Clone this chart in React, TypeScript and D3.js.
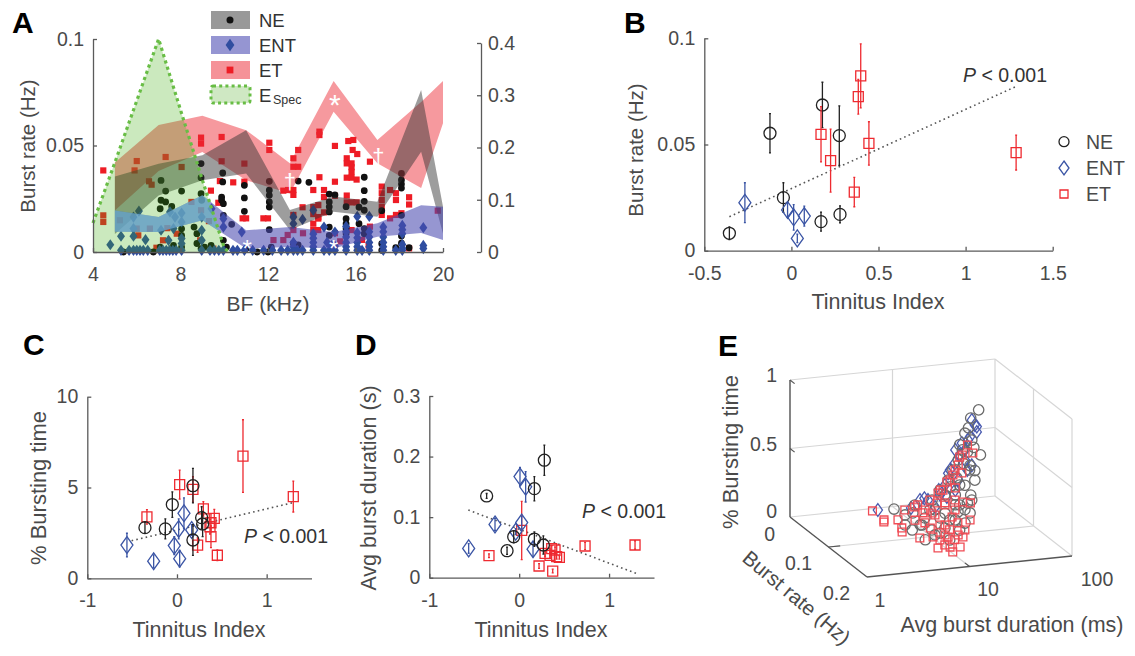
// App.tsx
import React, { useRef, useEffect } from 'react';
import * as d3 from 'd3';

// Panel A: bands are [BF, low, high], points are [BF, burst rate]
const etBand = [[5, 0.0195, 0.042], [7, 0.038, 0.0596], [9, 0.047, 0.064], [11, 0.0337, 0.0572], [13, 0.0275, 0.0417], [15, 0.0659, 0.0803], [17, 0.0417, 0.0526], [19, 0.03, 0.0704], [20, 0.0605, 0.0803]];
const neBand = [[5, 0.0085, 0.0355], [7, 0.0265, 0.0414], [9, 0.0337, 0.0454], [11, 0.0368, 0.0572], [13, 0.0103, 0.0197], [15, 0.0189, 0.026], [17, 0.0166, 0.0236], [19, 0.0471, 0.076], [20, 0.0086, 0.0213]];
const entBand = [[5, 0.0095, 0.0195], [7, 0.0094, 0.0164], [9, 0.0149, 0.0266], [11, 0.0016, 0.0102], [13, 0.0023, 0.0117], [15, 0.0016, 0.0094], [17, 0.0072, 0.0135], [19, 0.0089, 0.022], [20, 0.0056, 0.0213]];
const espec = [[4, 0.0136], [5, 0.042], [6, 0.071], [7, 0.1], [8, 0.0667], [9, 0.0338], [10, 0.002], [10.2, 0]];

const etPoints = [
  [4.47, 0.0383], [4.47, 0.0172], [4.47, 0.0141], [5.9, 0.0383], [6, 0.0427], [6.56, 0.0332], [6.68, 0.0316], [7.32, 0.0446], [8.05, 0.0399],
  [8.94, 0.0537], [8.94, 0.0509], [9.88, 0.054], [9.88, 0.0426], [10.92, 0.0415], [9.8, 0.0333], [10.41, 0.0327], [10.92, 0.033], [9.39, 0.0288], [9.73, 0.0231],
  [10.84, 0.0158], [11, 0.0158], [11.79, 0.0158], [12, 0.0158], [12.06, 0.0513], [12.06, 0.0479], [12.7, 0.0288], [12.92, 0.0291], [13.16, 0.0291], [13.16, 0.0268],
  [14.35, 0.0549], [14.35, 0.0565], [15.06, 0.0498], [15.67, 0.0521], [15.9, 0.0526], [15.87, 0.0479], [16.08, 0.046], [15.6, 0.044], [15.6, 0.0416], [15.82, 0.0416],
  [15.82, 0.0398], [15.82, 0.0376], [15.6, 0.0349], [15.82, 0.0349], [16.05, 0.034], [16.66, 0.0424], [13.38, 0.0479], [13.16, 0.044], [13.16, 0.04], [13.38, 0.04],
  [14.35, 0.0351], [15.06, 0.033], [14.07, 0.0291], [14.56, 0.0291], [15.06, 0.0264], [14.56, 0.0258], [13.58, 0.021], [14.07, 0.0211], [14.3, 0.022], [14.56, 0.0186],
  [14.07, 0.0178], [15.6, 0.0265], [15.6, 0.0233], [15.82, 0.0233], [16.05, 0.0233], [13.16, 0.0174], [14.07, 0.0133], [14.3, 0.0157], [14.07, 0.0103], [14.3, 0.0103],
  [15.06, 0.0088], [15.82, 0.0103], [13.6, 0.0088], [13.16, 0.0103], [12.7, 0.0056], [12.25, 0.0056], [12.9, 0.008], [14.3, 0.0164], [16.66, 0.0119],
  [17.2, 0.0307], [17.2, 0.0276], [17.2, 0.0244], [17.2, 0.0213], [17.2, 0.0174], [17.58, 0.0291], [17.85, 0.0276], [17.85, 0.0244], [18.45, 0.0257], [18.45, 0.0223],
  [17.58, 0.0158], [17.85, 0.0174], [18.1, 0.0182], [18.45, 0.0017], [19.76, 0.0194], [6.6, 0.011], [6.07, 0.0078], [7.2, 0.0055], [7.83, 0.0086], [8.9, 0.0055],
  [9.5, 0.0016], [5.23, 0.0149], [8.5, 0.0235], [8.94, 0.0196], [7.4, 0.0112], [6, 0.011], [9.3, 0.0145], [6.9, 0.002], [16.3, 0.0057], [16.6, 0.003], [15.3, 0.005]
];
const nePoints = [
  [6.76, 0], [5.39, 0], [7.11, 0.0336], [7.32, 0.0286], [7.11, 0.0243], [7.32, 0.0235], [7.6, 0.0214], [7.07, 0.0203], [8.05, 0.0286], [8.94, 0.0415], [8.94, 0.0349],
  [8.94, 0.0274], [8.97, 0.0243], [8.62, 0.0117], [8.05, 0.0109], [8.05, 0.0078], [8.75, 0.0086], [8.75, 0.004], [8.94, 0.0016], [9.1, 0.0023], [9.4, 0.0031], [7.07, 0.0023],
  [7.68, 0.0031], [8.05, 0.0023], [9.93, 0.0371], [9.93, 0.0329], [9.88, 0.0258], [9.88, 0.0243], [9.96, 0.0227], [10.92, 0.0313], [10.92, 0.0254], [10.92, 0.0191],
  [9.96, 0.0172], [10.34, 0.013], [12.06, 0.0332], [12.06, 0.029], [12.06, 0.0266], [12.06, 0.0235], [12.06, 0.0211], [12.06, 0.0105], [9.96, 0.0055], [10.1, 0.0023],
  [11, 0.0016], [11.5, 0], [12, 0], [12.15, 0.0023], [13.38, 0.0333], [13.87, 0.0327], [14.8, 0.0272], [15.06, 0.0268], [14.8, 0.0235], [14.8, 0.0212], [14.8, 0.0188],
  [15.57, 0.0213], [16.4, 0.0351], [16.4, 0.0288], [16.4, 0.0238], [16.4, 0.0196], [16.16, 0.021], [16.16, 0.0133], [14.8, 0.0117], [15.57, 0.0156], [15.57, 0.0133],
  [15.57, 0.011], [15.57, 0.0086], [13.16, 0.0041], [13.38, 0.0033], [18.1, 0.0369], [18.1, 0.0338], [18.1, 0.0319], [18.1, 0.03], [17.2, 0.0194], [18.1, 0.0172],
  [18.1, 0.0075], [18.1, 0.0041], [18.45, 0.002], [17.84, 0.002], [17.2, 0.0039], [17.2, 0.0008], [14.8, 0.0078], [16.4, 0.011], [16.4, 0.0086]
];
const entPoints = [
  [4.79, 0.0034], [5.28, 0.0074], [5.85, 0.0074], [5.85, 0.011], [5.85, 0.0164], [6.1, 0.0192], [6.4, 0.0058], [7.11, 0.0102], [7.45, 0.0055], [7.68, 0.011], [7.52, 0.0188],
  [7.75, 0.0164], [8.05, 0.0183], [8.05, 0.0141], [8.05, 0.0063], [8.05, 0.004], [8.97, 0.0164], [8.97, 0.0102], [8.97, 0.0055], [9.42, 0.0203], [9.96, 0.0156], [9.96, 0.0117], [10.8, 0.0094],
  [13.16, 0.0164], [13.16, 0.0133], [13.58, 0.0153], [14.07, 0.0196], [14.56, 0.0117], [15.06, 0.0094], [16.08, 0.0167], [16.63, 0.0167], [18.14, 0.0125], [18.14, 0.0086], [19.1, 0.0114],
  [19.1, 0.0031], [19.1, 0.0016], [5.28, 0.0008], [5.65, 0.0008], [5.85, 0.0008], [6, 0.0008], [6.15, 0.0008], [6.3, 0.0008], [6.5, 0.0008], [7.05, 0.0008], [7.2, 0.0008], [7.35, 0.0008],
  [7.5, 0.0008], [7.65, 0.0008], [7.8, 0.0008], [8.05, 0.0008], [8.97, 0.0008], [9.35, 0.0008], [9.55, 0.0008], [9.75, 0.0008], [9.96, 0.0008], [10.4, 0.0008], [10.6, 0.0008], [10.92, 0.0008],
  [11.3, 0.0008], [11.8, 0.0008], [12.2, 0.0008], [12.6, 0.0008], [12.9, 0.0008], [13.16, 0.0008], [13.35, 0.0008], [13.58, 0.0008], [14.07, 0.0008], [14.56, 0.0008], [14.8, 0.0008],
  [15.06, 0.0008], [15.57, 0.0008], [16.08, 0.0008], [16.3, 0.0008], [16.63, 0.0008], [17.27, 0.0008], [17.84, 0.0008], [18.14, 0.0008],
  [14.07, 0.0025], [14.07, 0.0045], [14.07, 0.0065], [14.07, 0.0085], [15.57, 0.0025], [15.57, 0.0045], [15.57, 0.007], [15.57, 0.0095], [15.57, 0.012], [16.08, 0.0025], [16.08, 0.0045],
  [16.08, 0.0067], [16.08, 0.009], [16.63, 0.0025], [16.63, 0.0045], [16.63, 0.007], [16.63, 0.0095], [17.27, 0.0025], [17.27, 0.0045], [17.27, 0.007], [17.27, 0.0095], [17.27, 0.0117],
  [18.14, 0.0018], [18.14, 0.0035], [18.14, 0.0105], [13.16, 0.0025], [13.16, 0.0045], [14.9, 0.003], [14.7, 0.0045], [15.06, 0.0028]
];

// Panels B, C, D: points are [tinnitus index, value, error]
const bNe = [[-0.356, 0.0082, 0.003], [-0.123, 0.0553, 0.0092], [-0.046, 0.025, 0.007], [0.178, 0.0686, 0.0107], [0.275, 0.0542, 0.014], [0.17, 0.0137, 0.0045], [0.279, 0.0171, 0.004]];
const bEnt = [[-0.267, 0.0226, 0.0094], [-0.022, 0.0192, 0.0035], [0.013, 0.0157, 0.006], [0.074, 0.0163, 0.0047], [0.034, 0.0058, 0.002]];
const bEt = [[0.398, 0.0823, 0.0151], [0.384, 0.0725, 0.0082], [0.17, 0.0548, 0.013], [0.445, 0.0505, 0.0102], [0.225, 0.0424, 0.0148], [0.361, 0.0276, 0.0069], [1.29, 0.0462, 0.0082]];
const bTrend = [[-0.356, 0.016], [1.297, 0.0776]];

const cNe = [[-0.357, 2.79, 0.3], [-0.13, 2.72, 0.55], [-0.052, 4.06, 0.7], [0.178, 5.1, 0.95], [0.178, 2.11, 0.85], [0.275, 3.34, 0.6], [0.286, 2.99, 0.7]];
const cEnt = [[-0.558, 1.83, 0.65], [-0.26, 0.94, 0.35], [0.078, 3.58, 0.85], [0.019, 2.72, 0.55], [0.164, 2.66, 0.3], [-0.03, 1.8, 0.5], [0.03, 1.08, 0.45]];
const cEt = [[-0.335, 3.38, 0.4], [0.03, 5.16, 0.8], [0.178, 4.9, 0.7], [0.23, 1.83, 0.4], [0.294, 3.82, 0.4], [0.379, 3.06, 0.5], [0.379, 2.29, 0.6], [0.416, 3.3, 0.5], [0.45, 1.27, 0.3], [0.736, 6.73, 2], [1.297, 4.5, 0.85], [0.368, 2.84, 0.4]];
const cTrend = [[-0.506, 2.07], [1.297, 4.17]];

const dNe = [[-0.362, 0.135, 0.004], [-0.135, 0.0446, 0.006], [-0.061, 0.0677, 0.01], [0.169, 0.147, 0.02], [0.169, 0.0638, 0.012], [0.28, 0.194, 0.025], [0.269, 0.054, 0.015]];
const dEnt = [[-0.562, 0.0484, 0.008], [-0.269, 0.088, 0.01], [0.009, 0.167, 0.015], [0.072, 0.15, 0.025], [0.028, 0.091, 0.01], [-0.039, 0.076, 0.005], [0.154, 0.047, 0.012]];
const dEt = [[-0.336, 0.0363, 0.003], [0.028, 0.078, 0.048], [0.221, 0.0193, 0.004], [0.288, 0.04, 0.005], [0.362, 0.048, 0.005], [0.373, 0.011, 0.003], [0.343, 0.037, 0.005], [0.399, 0.0457, 0.005], [0.417, 0.0347, 0.004], [0.447, 0.0336, 0.003], [0.733, 0.0523, 0.006], [1.289, 0.054, 0.007]];
const dTrend = [[-0.566, 0.1117], [1.3, 0.0072]];

// Panel E: points are [avg burst duration (ms), burst rate (Hz), fraction of bursting time]
const eNe = [
  [49, 0.04, 0.74], [41, 0.04, 0.686], [39, 0.04, 0.616], [36, 0.04, 0.58], [51, 0.04, 0.41], [45, 0.04, 0.23], [41, 0.04, 0.124], [38, 0.04, 0.069], [34, 0.04, 0.46], [31, 0.04, 0.39],
  [27.5, 0.04, 0.32], [24.7, 0.04, 0.25], [20.6, 0.04, 0.184], [17.2, 0.04, 0.117], [42, 0.04, 0.525], [45, 0.04, 0.3], [32, 0.04, 0.5], [40.3, 0.04, 0.34], [36, 0.04, 0.2], [29, 0.04, 0.137],
  [32, 0.04, 0.06], [8.7, 0.02, 0.03], [28.6, 0.08, 0.093], [23.4, 0.09, 0.048], [7.8, 0.08, 0.012], [7.9, 0.08, 0.136], [16.3, 0.08, 0.11], [10.2, 0.1, 0.047], [12.2, 0.1, 0.019], [9.7, 0.08, 0.041],
  [15.2, 0.1, 0.106], [14.2, 0.07, 0.117], [9.5, 0.09, 0.115], [21.8, 0.08, 0.11], [10.7, 0.05, 0.118], [8.6, 0.05, 0.053], [44, 0.04, 0.47], [38, 0.04, 0.44], [35, 0.04, 0.36], [30, 0.04, 0.26], [26, 0.04, 0.2],
  [7.4, 0.12, 0.03], [9.2, 0.12, 0.058], [11.5, 0.12, 0.1], [14.5, 0.12, 0.153], [18, 0.12, 0.22], [12.8, 0.12, 0.01], [16, 0.12, 0.075], [10.3, 0.12, 0.178], [8.2, 0.12, 0.244], [21, 0.12, 0.285],
  [14.5, 0.12, 0.263], [6.6, 0.12, 0.142], [4.7, 0.12, 0.153], [11.5, 0.12, 0.343], [16, 0.12, 0.404], [20, 0.12, 0.506]
];
const eEnt = [
  [6.6, 0.01, 0.01], [11.7, 0.03, 0.05], [14.3, 0.03, 0.1], [15.8, 0.03, 0.11], [20, 0.04, 0.185], [24.7, 0.04, 0.3], [28.8, 0.04, 0.37], [33.6, 0.04, 0.51], [40.4, 0.04, 0.55], [47, 0.04, 0.58],
  [42, 0.04, 0.67], [47, 0.04, 0.62], [42, 0.04, 0.34], [38, 0.04, 0.31], [31, 0.04, 0.244], [24, 0.04, 0.128], [18.4, 0.04, 0.064], [36, 0.04, 0.457], [29, 0.04, 0.173],
  [25.7, 0.04, 0.323], [32, 0.04, 0.425], [23, 0.04, 0.217], [38.6, 0.04, 0.528], [45, 0.04, 0.632], [15.7, 0.04, 0.12], [36, 0.04, 0.384], [29, 0.04, 0.465], [20.6, 0.04, 0.15]
];
const eEt = [
  [5.6, 0.015, 0.02], [5.6, 0.045, 0.02], [5.3, 0.051, 0.02], [7.4, 0.049, 0.02], [6.5, 0.074, 0.02], [5.9, 0.086, 0.02], [7.2, 0.109, 0.02], [10.3, 0.055, 0.02], [11.7, 0.066, 0.02], [9.6, 0.11, 0.02],
  [8, 0.144, 0.02], [10.4, 0.145, 0.02], [9.7, 0.16, 0.02], [12.7, 0.148, 0.02], [17.4, 0.119, 0.02], [16.6, 0.112, 0.02], [12.9, 0.115, 0.02], [10.2, 0.121, 0.02], [9.9, 0.137, 0.02], [48, 0.021, 0.02],
  [42, 0.016, 0.02], [38, 0.008, 0.02], [24.7, 0.011, 0.02], [29, 0.013, 0.02], [16, 0.011, 0.02], [17.3, 0.039, 0.02], [14.5, 0.036, 0.02], [23.3, 0.057, 0.02], [22.5, 0.076, 0.02], [21.6, 0.099, 0.02],
  [43, 0.04, 0.43], [32, 0.04, 0.41], [31, 0.04, 0.353], [27.5, 0.04, 0.284], [24, 0.04, 0.237], [22, 0.04, 0.18], [19.7, 0.04, 0.163], [33.6, 0.04, 0.292], [29, 0.04, 0.188], [12.7, 0.03, 0.054],
  [14.9, 0.077, 0.02], [16, 0.094, 0.02], [11.4, 0.083, 0.02], [12.8, 0.108, 0.02], [13.7, 0.125, 0.02],
  [11.6, 0.08, 0.217], [14.7, 0.08, 0.283], [18.2, 0.08, 0.349], [20.4, 0.08, 0.418], [24, 0.08, 0.522], [27, 0.08, 0.591], [16.3, 0.08, 0.17], [13, 0.08, 0.104], [10.4, 0.08, 0.148], [20.4, 0.08, 0.126],
  [28.6, 0.08, 0.042], [16.3, 0.08, 0.024], [6.6, 0.08, 0.164]
];

const NE_COLOR = '#222222';
const ENT_COLOR = '#3b55a5';
const ET_COLOR = '#ee2a30';
const AXIS_COLOR = '#5a5a5a';
const TEXT_COLOR = '#4a4a4a';
const FONT = '"Liberation Sans", Arial, sans-serif';
const plainNumber = (d) => String(d);

// taller than d3.symbolDiamond, closer to the MATLAB marker
const tallDiamond = (halfWidth, halfHeight) => ({
  draw(context) {
    context.moveTo(0, -halfHeight);
    context.lineTo(halfWidth, 0);
    context.lineTo(0, halfHeight);
    context.lineTo(-halfWidth, 0);
    context.closePath();
  },
});

const markerPath = (shape, size) => {
  if (shape === 'circle') return d3.symbol(d3.symbolCircle, Math.PI * size * size)();
  if (shape === 'square') return d3.symbol(d3.symbolSquare, 4 * size * size)();
  return d3.symbol(tallDiamond(size, size * 1.4), 1)();
};

const addText = (g, x, y, text, size = 19, anchor = 'middle', fill = TEXT_COLOR) =>
  g
    .append('text')
    .attr('x', x)
    .attr('y', y)
    .attr('font-size', size)
    .attr('font-family', FONT)
    .attr('text-anchor', anchor)
    .attr('fill', fill)
    .text(text);

const addRotated = (g, x, y, angle, text, size = 20) =>
  addText(g, 0, 0, text, size).attr('transform', `translate(${x},${y}) rotate(${angle})`);

const addP = (g, x, y) => {
  const t = addText(g, x, y, '', 19.5, 'start', '#333333');
  t.append('tspan').attr('font-style', 'italic').text('P');
  t.append('tspan').text(' < 0.001');
};

const styleAxis = (axisGroup) => {
  axisGroup.attr('font-size', 19.5).attr('font-family', FONT);
  axisGroup.selectAll('path, line').attr('stroke', AXIS_COLOR).attr('stroke-width', 1.3);
  axisGroup.selectAll('text').attr('fill', TEXT_COLOR);
};

const addAxes = (g, xScale, yScale, xTicks, yTicks) => {
  const yBase = yScale.range()[0];
  const xBase = xScale.range()[0];
  const xAxis = d3.axisBottom(xScale).tickValues(xTicks).tickFormat(plainNumber).tickSizeInner(-4).tickSizeOuter(0).tickPadding(15);
  const yAxis = d3.axisLeft(yScale).tickValues(yTicks).tickFormat(plainNumber).tickSizeInner(-4).tickSizeOuter(0).tickPadding(9);
  g.append('g').attr('transform', `translate(0,${yBase})`).call(xAxis).call(styleAxis);
  g.append('g').attr('transform', `translate(${xBase},0)`).call(yAxis).call(styleAxis);
};

const addErrorMarkers = (g, points, xScale, yScale, shape, size, color) => {
  const group = g.append('g').attr('stroke', color).attr('fill', 'none');
  points.forEach(([x, y, err]) => {
    const px = xScale(x);
    const low = yScale(y - err);
    const high = yScale(y + err);
    group.append('path').attr('d', `M${px},${low}V${high}M${px - 1},${low}h2M${px - 1},${high}h2`).attr('stroke-width', 1.3);
    group
      .append('path')
      .attr('d', markerPath(shape, size))
      .attr('transform', `translate(${px},${yScale(y)})`)
      .attr('stroke-width', 1.3);
  });
};

const addTrend = (g, trend, xScale, yScale) => {
  const line = d3.line().x((d) => xScale(d[0])).y((d) => yScale(d[1]));
  g.append('path')
    .attr('d', line(trend))
    .attr('fill', 'none')
    .attr('stroke', '#555555')
    .attr('stroke-width', 1.6)
    .attr('stroke-dasharray', '1.6 3.2');
};

const drawPanelA = (svg) => {
  const g = svg.append('g');
  const x = d3.scaleLinear().domain([4, 20]).range([93, 443]);
  const y = d3.scaleLinear().domain([0, 0.1]).range([252, 39]);
  const yRight = d3.scaleLinear().domain([0, 0.4]).range([252, 43]);

  const dots = (points, shape, size, color) =>
    g
      .append('g')
      .selectAll('path')
      .data(points)
      .enter()
      .append('path')
      .attr('d', markerPath(shape, size))
      .attr('transform', (d) => `translate(${x(d[0])},${y(d[1])})`)
      .attr('fill', color);

  dots(etPoints, 'square', 3.1, '#ee1c25');
  dots(nePoints, 'circle', 3.4, '#111111');
  dots(entPoints, 'diamond', 4, '#2f4da0');

  const band = d3.area().x((d) => x(d[0])).y0((d) => y(d[1])).y1((d) => y(d[2]));
  g.append('path').attr('d', band(etBand)).attr('fill', '#ec2a35').attr('opacity', 0.48);
  g.append('path').attr('d', band(neBand)).attr('fill', '#333333').attr('opacity', 0.48);
  g.append('path').attr('d', band(entBand)).attr('fill', '#4a4ab0').attr('opacity', 0.58);

  const especArea = d3.area().x((d) => x(d[0])).y0(y(0)).y1((d) => y(d[1]));
  g.append('path')
    .attr('d', especArea(espec))
    .attr('fill', '#3fae10')
    .attr('opacity', 0.27);

  // the ENT band reads as sky blue where it lies under the green area
  g.append('clipPath').attr('id', 'espec-clip').append('path').attr('d', especArea(espec));
  g.append('path')
    .attr('d', band(entBand))
    .attr('fill', '#6fb5dd')
    .attr('opacity', 0.62)
    .attr('clip-path', 'url(#espec-clip)');

  g.append('path')
    .attr('d', d3.line().x((d) => x(d[0])).y((d) => y(d[1]))(espec))
    .attr('fill', 'none')
    .attr('stroke', '#68bd45')
    .attr('stroke-width', 3.2)
    .attr('stroke-dasharray', '3.2 3.4');

  addAxes(g, x, y, [4, 8, 12, 16, 20], [0, 0.05, 0.1]);
  const rightAxis = d3.axisRight(yRight).tickValues([0, 0.1, 0.2, 0.3, 0.4]).tickFormat(plainNumber).tickSizeInner(-4).tickSizeOuter(0).tickPadding(7);
  g.append('g').attr('transform', 'translate(481,0)').call(rightAxis).call(styleAxis);

  addText(g, x(15.05), 115, '*', 30, 'middle', '#ffffff');
  addText(g, x(11.05), 257, '*', 24, 'middle', '#ffffff');
  addText(g, x(15), 257, '*', 24, 'middle', '#ffffff');
  addText(g, x(13), 189, '†', 22, 'middle', '#ffffff');
  addText(g, x(17.05), 164, '†', 22, 'middle', '#ffffff');

  addRotated(g, 35, 146, -90, 'Burst rate (Hz)', 20.5);
  addText(g, 268, 311, 'BF (kHz)', 21);

  // legend
  const legendRows = [
    { label: 'NE', top: 11, fill: '#999999', shape: 'circle', size: 3.5, color: '#111111', textY: 27 },
    { label: 'ENT', top: 36, fill: '#9595d2', shape: 'diamond', size: 4.4, color: '#2f4da0', textY: 52 },
    { label: 'ET', top: 61, fill: '#f59298', shape: 'square', size: 3.4, color: '#ee1c25', textY: 77 },
  ];
  legendRows.forEach((row) => {
    g.append('rect').attr('x', 211).attr('y', row.top).attr('width', 39).attr('height', 18).attr('fill', row.fill);
    g.append('path')
      .attr('d', markerPath(row.shape, row.size))
      .attr('transform', `translate(230,${row.top + 9})`)
      .attr('fill', row.color);
    addText(g, 259, row.textY, row.label, 18.5, 'start', '#333333');
  });
  g.append('rect')
    .attr('x', 211)
    .attr('y', 86)
    .attr('width', 39)
    .attr('height', 17)
    .attr('rx', 2)
    .attr('fill', '#cfe8c3')
    .attr('stroke', '#68bd45')
    .attr('stroke-width', 3)
    .attr('stroke-dasharray', '3 3.2');
  addText(g, 259, 102, 'E', 18.5, 'start', '#333333');
  addText(g, 273, 104, 'Spec', 12.5, 'start', '#333333');
};

const drawPanelB = (svg) => {
  const g = svg.append('g');
  const x = d3.scaleLinear().domain([-0.5, 1.5]).range([704.3, 1052.7]);
  const y = d3.scaleLinear().domain([0, 0.1]).range([250.7, 38.3]);
  addAxes(g, x, y, [-0.5, 0, 0.5, 1, 1.5], [0, 0.05, 0.1]);
  addTrend(g, bTrend, x, y);
  addErrorMarkers(g, bNe, x, y, 'circle', 6, NE_COLOR);
  addErrorMarkers(g, bEnt, x, y, 'diamond', 6, ENT_COLOR);
  addErrorMarkers(g, bEt, x, y, 'square', 5, ET_COLOR);
  addP(g, 963, 82);
  addRotated(g, 643, 150, -90, 'Burst rate (Hz)', 20.5);
  addText(g, 878, 309, 'Tinnitus Index', 21.5);

  const legendRows = [
    { label: 'NE', shape: 'circle', size: 5, color: NE_COLOR, rowY: 141.7 },
    { label: 'ENT', shape: 'diamond', size: 5, color: ENT_COLOR, rowY: 168 },
    { label: 'ET', shape: 'square', size: 4, color: ET_COLOR, rowY: 194 },
  ];
  legendRows.forEach((row) => {
    g.append('path')
      .attr('d', markerPath(row.shape, row.size))
      .attr('transform', `translate(1064,${row.rowY})`)
      .attr('fill', 'none')
      .attr('stroke', row.color)
      .attr('stroke-width', 1.3);
    addText(g, 1086, row.rowY + 7, row.label, 19.5, 'start');
  });
};

const drawPanelC = (svg) => {
  const g = svg.append('g');
  const x = d3.scaleLinear().domain([-1, 1.5]).range([87.3, 311.5]);
  const y = d3.scaleLinear().domain([0, 10]).range([578.3, 396.7]);
  addAxes(g, x, y, [-1, 0, 1], [0, 5, 10]);
  addTrend(g, cTrend, x, y);
  addErrorMarkers(g, cEt, x, y, 'square', 5, ET_COLOR);
  addErrorMarkers(g, cEnt, x, y, 'diamond', 6, ENT_COLOR);
  addErrorMarkers(g, cNe, x, y, 'circle', 6, NE_COLOR);
  addP(g, 244, 543);
  addRotated(g, 46, 488, -90, '% Bursting time', 22);
  addText(g, 199, 637, 'Tinnitus Index', 21.5);
};

const drawPanelD = (svg) => {
  const g = svg.append('g');
  const x = d3.scaleLinear().domain([-1, 1.5]).range([429.3, 654]);
  const y = d3.scaleLinear().domain([0, 0.3]).range([577.7, 396]);
  addAxes(g, x, y, [-1, 0, 1], [0, 0.1, 0.2, 0.3]);
  addTrend(g, dTrend, x, y);
  addErrorMarkers(g, dEt, x, y, 'square', 5, ET_COLOR);
  addErrorMarkers(g, dEnt, x, y, 'diamond', 6, ENT_COLOR);
  addErrorMarkers(g, dNe, x, y, 'circle', 6, NE_COLOR);
  addP(g, 582, 518);
  addRotated(g, 376, 488, -90, 'Avg burst duration (s)', 21.5);
  addText(g, 541, 637, 'Tinnitus Index', 21.5);
};

const drawPanelE = (svg) => {
  const g = svg.append('g');
  // the box is an oblique projection: each data axis adds its own screen vector
  const duration = d3.scaleLog().domain([1, 100]).range([0, 1]);
  const rate = d3.scaleLinear().domain([0, 0.2]).range([0, 1]);
  const share = d3.scaleLinear().domain([0, 1]).range([0, 137]);
  const project = (dur, r, z) => [
    790 + 205 * duration(dur) + 77 * rate(r),
    517 - 21 * duration(dur) + 60 * rate(r) - share(z),
  ];
  const segment = (a, b, color, width) =>
    g
      .append('path')
      .attr('d', d3.line()([project(a[0], a[1], a[2]), project(b[0], b[1], b[2])]))
      .attr('fill', 'none')
      .attr('stroke', color)
      .attr('stroke-width', width);

  const light = '#d6d6d6';
  const boxEdges = [
    [[1, 0, 1], [100, 0, 1]],
    [[100, 0, 1], [100, 0.2, 1]],
    [[100, 0.2, 1], [100, 0.2, 0]],
    [[100, 0, 1], [100, 0, 0]],
    [[1, 0, 0], [100, 0, 0]],
    [[100, 0, 0], [100, 0.2, 0]],
    [[10, 0, 0], [10, 0, 1]],
    [[1, 0, 0.5], [100, 0, 0.5]],
    [[100, 0, 0.5], [100, 0.2, 0.5]],
    [[100, 0.1, 0], [100, 0.1, 1]],
    [[10, 0, 0], [10, 0.2, 0]],
    [[1, 0.1, 0], [100, 0.1, 0]],
  ];
  boxEdges.forEach(([a, b]) => segment(a, b, light, 1.2));

  segment([1, 0, 0], [1, 0, 1], '#666666', 1.6);
  segment([1, 0, 0], [1, 0.2, 0], '#555555', 1.4);
  segment([1, 0.2, 0], [100, 0.2, 0], '#555555', 1.4);
  // short axis ticks
  segment([1, 0, 1], [1, 0.012, 1], '#555555', 1.2);
  segment([1, 0, 0.5], [1, 0.012, 0.5], '#555555', 1.2);
  segment([1, 0.1, 0], [1.3, 0.1, 0], '#555555', 1.2);
  segment([10, 0.2, 0], [10, 0.188, 0], '#555555', 1.2);

  const scatter = (points, shape, size, color) =>
    g
      .append('g')
      .selectAll('path')
      .data(points)
      .enter()
      .append('path')
      .attr('d', markerPath(shape, size))
      .attr('transform', (d) => `translate(${project(d[0], d[1], d[2]).join(',')})`)
      .attr('fill', 'none')
      .attr('stroke', color)
      .attr('stroke-width', 1.3);

  scatter(eEnt, 'diamond', 4.6, '#4a5bb0');
  scatter(eNe, 'circle', 5.2, '#6a6a6a');
  scatter(eEt, 'square', 3.9, '#f04c55');

  addText(g, 777, 382, '1', 19.5, 'end');
  addText(g, 777, 451, '0.5', 19.5, 'end');
  addText(g, 777, 518, '0', 19.5, 'end');
  addText(g, 775, 541, '0', 19.5, 'end');
  addText(g, 812, 570, '0.1', 19.5, 'end');
  addText(g, 850, 600, '0.2', 19.5, 'end');
  addText(g, 880, 607, '1', 19.5);
  addText(g, 988, 596, '10', 19.5);
  addText(g, 1097, 586, '100', 19.5);
  addRotated(g, 738, 452, -90, '% Bursting time', 22);
  addRotated(g, 792, 603, 40, 'Burst rate (Hz)', 20.5);
  addText(g, 1012, 632, 'Avg burst duration (ms)', 21.5);
};

const App = () => {
  const chartRef = useRef(null);

  useEffect(() => {
    const svg = d3.select(chartRef.current);
    svg.selectAll('*').remove();

    drawPanelA(svg);
    drawPanelB(svg);
    drawPanelC(svg);
    drawPanelD(svg);
    drawPanelE(svg);

    // panel letters
    [['A', 12, 33], ['B', 624, 33], ['C', 23, 355], ['D', 355, 355], ['E', 718, 356]].forEach(([letter, x, y]) => {
      addText(svg, x, y, letter, 30, 'start', '#000000').attr('font-weight', 'bold');
    });
  }, []);

  return (
    <svg
      ref={chartRef}
      width={1135}
      height={656}
      style={{ position: 'absolute', left: 0, top: 0, background: '#ffffff' }}
    />
  );
};

export default App;
